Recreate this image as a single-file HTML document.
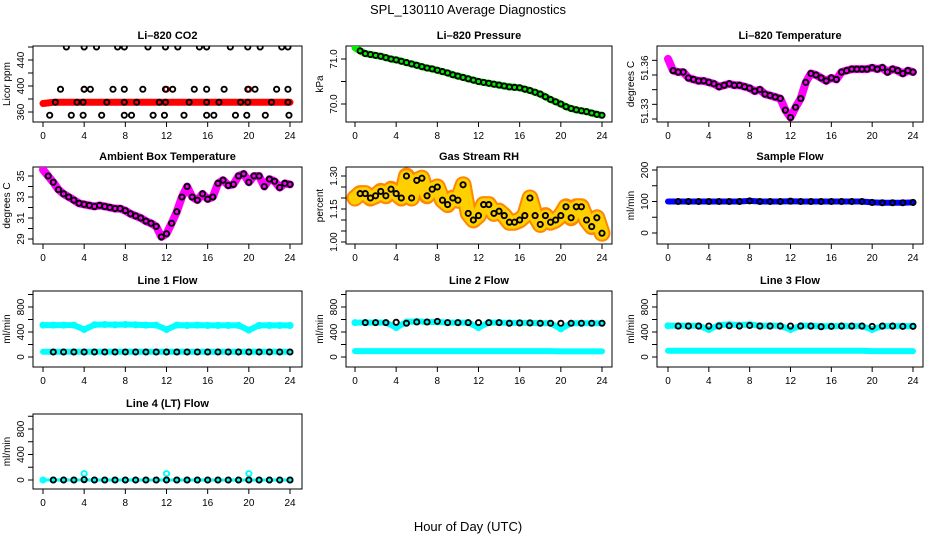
<!DOCTYPE html>
<html><head><meta charset="utf-8">
<style>
html,body{margin:0;padding:0;background:#fff;}
svg{display:block;font-family:"Liberation Sans",Arial,sans-serif;}
</style></head>
<body>
<svg id="chart" width="936" height="540" viewBox="0 0 936 540">
<text x="468" y="14" text-anchor="middle" font-size="13">SPL_130110  Average Diagnostics</text>
<text x="468" y="531" text-anchor="middle" font-size="13">Hour of Day (UTC)</text>
</svg>
<script>
// ---------- data ----------
const hours49 = [0,0.5,1,1.5,2,2.5,3,3.5,4,4.5,5,5.5,6,6.5,7,7.5,8,8.5,9,9.5,10,10.5,11,11.5,12,12.5,13,13.5,14,14.5,15,15.5,16,16.5,17,17.5,18,18.5,19,19.5,20,20.5,21,21.5,22,22.5,23,23.5,24];
const hours25 = [0,1,2,3,4,5,6,7,8,9,10,11,12,13,14,15,16,17,18,19,20,21,22,23,24];
const xTicks = [0,4,8,12,16,20,24];

const co2Hours = [2.27,4.0,5.2,7.25,7.9,10.2,11.9,13.1,15.2,15.9,18.2,19.9,21.1,23.2,23.8, 1.7,4.0,4.6,6.8,7.9,9.7,11.9,12.6,14.7,15.9,17.6,19.9,20.6,22.7,23.8, 1.2,3.3,3.9,6.2,7.9,9.1,11.3,11.9,14.2,15.9,17.1,19.2,19.9,22.2,23.8, 0.65,2.75,3.9,5.7,7.9,8.6,10.7,11.8,13.7,15.9,16.6,18.7,19.8,21.6,23.9];
const co2Values = [460,460,460,460,460,460,460,460,460,460,460,460,460,460,460, 395,395,395,395,395,395,395,395,395,395,395,395,395,395,395, 375,375,375,375,375,375,375,375,375,375,375,375,375,375,375, 355,355,355,355,355,355,355,355,355,355,355,355,355,355,355];
const co2Red = [373,375,375,375,375,375,375,375,375,375,375,375,375,375,375,375,375,375,375,375,375,375,375,375,375];

const pressure = [71.25,71.18,71.12,71.10,71.08,71.06,71.03,71.00,70.98,70.95,70.92,70.89,70.86,70.83,70.80,70.78,70.75,70.72,70.69,70.65,70.62,70.59,70.56,70.53,70.50,70.48,70.46,70.44,70.42,70.40,70.38,70.37,70.36,70.33,70.30,70.26,70.22,70.16,70.10,70.05,70.00,69.94,69.90,69.87,69.85,69.83,69.80,69.77,69.75];

const licorTemp = [51.371,51.363,51.362,51.362,51.358,51.357,51.356,51.356,51.355,51.354,51.352,51.353,51.354,51.353,51.353,51.352,51.351,51.349,51.350,51.347,51.346,51.345,51.344,51.336,51.331,51.338,51.344,51.355,51.361,51.360,51.358,51.356,51.358,51.357,51.362,51.363,51.364,51.364,51.364,51.364,51.365,51.364,51.365,51.362,51.364,51.363,51.361,51.363,51.362];

const ambientTemp = [35.6,35.0,34.4,33.7,33.3,33.0,32.7,32.4,32.3,32.2,32.1,32.2,32.1,32.0,31.9,31.9,31.7,31.4,31.2,31.0,30.7,30.5,30.2,29.2,29.5,30.5,31.6,33.0,34.0,33.0,32.7,33.3,32.8,33.0,34.3,34.6,34.1,34.2,35.0,35.2,34.4,35.0,35.0,34.0,34.7,34.5,33.9,34.3,34.2];

const gasRH = [1.20,1.22,1.22,1.20,1.21,1.23,1.21,1.24,1.22,1.20,1.30,1.20,1.28,1.29,1.21,1.24,1.25,1.19,1.17,1.20,1.19,1.26,1.13,1.10,1.12,1.17,1.17,1.13,1.14,1.12,1.09,1.09,1.10,1.12,1.20,1.12,1.08,1.12,1.09,1.10,1.12,1.16,1.11,1.16,1.16,1.10,1.07,1.11,1.04];

const sampleFlow = [100,100,100,100,100,100,100,100,102,100,100,100,101,100,100,100,100,100,100,100,97,96,96,96,97];

const line1Black = [80,80,80,80,80,80,80,80,80,80,80,80,80,80,80,80,80,80,80,80,80,80,80,80,80];
const line1Cyan = [510,510,510,510,440,515,520,515,520,515,510,510,440,510,505,510,505,505,505,505,430,505,505,505,505];
const line1Low = [85,85,85,85,85,85,85,85,85,85,85,85,85,85,85,85,85,85,85,85,85,85,85,85,85];

const line2Black = [550,550,550,550,555,540,560,560,570,550,550,550,550,550,550,540,545,545,540,540,540,540,540,540,540];
const line2Cyan = [550,550,550,550,470,560,570,560,560,550,550,550,470,550,550,545,545,545,540,540,450,540,540,540,540];
const line2Low = [95,95,95,95,95,95,95,95,95,95,95,95,95,95,95,95,95,95,95,95,90,90,90,90,90];

const line3Black = [495,495,495,495,495,495,500,495,505,495,495,495,495,495,495,485,490,495,495,495,490,495,495,490,490];
const line3Cyan = [500,500,500,500,440,510,520,510,520,500,500,500,440,500,500,490,495,495,495,495,440,495,495,495,495];
const line3Low = [100,100,100,100,100,100,100,100,100,100,100,100,100,100,100,100,100,100,100,100,95,95,95,95,95];

const line4Black = [0,0,0,0,5,0,0,0,0,0,0,0,0,0,0,0,0,0,0,0,0,0,0,0,0];
const line4Cyan = [0,0,0,0,100,0,0,0,0,0,0,0,100,0,0,0,0,0,0,0,100,0,0,0,0];

// ---------- helpers ----------
const svg = document.getElementById('chart');
const NS = 'http://www.w3.org/2000/svg';
function mk(tag, attrs, parent) {
  const e = document.createElementNS(NS, tag);
  for (const k in attrs) e.setAttribute(k, attrs[k]);
  (parent || svg).appendChild(e);
  return e;
}
const cols = [{l:33,r:302,x0:43,x1:290},{l:346,r:612,x0:355,x1:602},{l:657,r:923,x0:668,x1:913}];
const rows = [{t:46,b:122},{t:167,b:244},{t:291,b:367},{t:414,b:489}];

function panel(name, title, col, row, yLab, yRef, yTicks, yLabels, labelPos) {
  const c = cols[col], r = rows[row];
  const g = mk('g', {});
  
  
  const xs = h => c.x0 + (h / 24) * (c.x1 - c.x0);
  const ys = v => yRef[1] + (v - yRef[0]) * (yRef[3] - yRef[1]) / (yRef[2] - yRef[0]);
  const t = mk('text', {x:(c.l + c.r) / 2, y:r.t - 7, 'text-anchor':'middle', 'font-size':11, 'font-weight':'bold'}, g);
  t.textContent = title;
  
  
  const box = mk('rect', {x:c.l, y:r.t, width:c.r - c.l, height:r.b - r.t, fill:'none', stroke:'#000', 'stroke-width':1}, g);
  
  
  const xa = mk('g', {}, g);
  
  
  mk('line', {x1:xs(0), x2:xs(24), y1:r.b, y2:r.b, stroke:'#000'}, xa);
  xTicks.forEach(v => {
    mk('line', {x1:xs(v), x2:xs(v), y1:r.b, y2:r.b + 5, stroke:'#000'}, xa);
    const tl = mk('text', {x:xs(v), y:r.b + 17, 'text-anchor':'middle', 'font-size':10}, xa);
    tl.textContent = v;
    
    
  });
  const ya = mk('g', {}, g);
  
  
  mk('line', {x1:c.l, x2:c.l, y1:ys(yTicks[0]), y2:ys(yTicks[yTicks.length - 1]), stroke:'#000'}, ya);
  yTicks.forEach(v => mk('line', {x1:c.l - 5, x2:c.l, y1:ys(v), y2:ys(v), stroke:'#000'}, ya));
  yLabels.forEach((lab, i) => {
    const yy = labelPos ? labelPos[i] : ys(parseFloat(lab));
    const tl = mk('text', {x:c.l - 9, y:yy, 'text-anchor':'middle', 'font-size':10, transform:`rotate(-90 ${c.l - 9} ${yy})`}, ya);
    tl.textContent = lab;
    
    
  });
  const cy = (r.t + r.b) / 2;
  const yt = mk('text', {x:c.l - 23, y:cy, 'text-anchor':'middle', 'font-size':10, transform:`rotate(-90 ${c.l - 23} ${cy})`}, g);
  yt.textContent = yLab;
  
  
  const clip = 'clip' + name;
  const cp = mk('clipPath', {id:clip}, g);
  mk('rect', {x:c.l, y:r.t, width:c.r - c.l, height:r.b - r.t}, cp);
  const plot = mk('g', {'clip-path':`url(#${clip})`}, g);
  return {xs, ys, g:plot};
}
function band(p, hs, vals, color, w, nm, extra) {
  const pts = hs.map((h, i) => p.xs(h).toFixed(1) + ',' + p.ys(vals[i]).toFixed(1)).join(' ');
  const pl = mk('polyline', Object.assign({points:pts, fill:'none', stroke:color, 'stroke-width':w, 'stroke-linejoin':'round', 'stroke-linecap':'round'}, extra || {}), p.g);
  
  
}
function dots(p, hs, vals, color, nm, start) {
  hs.forEach((h, i) => {
    if (h < (start || 0)) return;
    const ci = mk('circle', {cx:p.xs(h), cy:p.ys(vals[i]), r:2.6, fill:'none', stroke:color, 'stroke-width':1.9}, p.g);
    
    
  });
}

let p = panel('co2-panel', 'Li\u2013820 CO2', 0, 0, 'Licor ppm', [360,112,440,60], [360,380,400,420,440,460], ['360','400','440']);
band(p, hours25, co2Red, '#ff0000', 7, 'co2-red-series');
dots(p, [4,12,20], [395,395,395], '#ff0000', 'co2-red-point');
dots(p, co2Hours, co2Values, '#000', 'co2-point');

p = panel('pressure-panel', 'Li\u2013820 Pressure', 1, 0, 'kPa', [70.0,104,71.0,59], [70.0,70.5,71.0], ['70.0','71.0']);
band(p, hours49, pressure, '#00ee00', 7, 'pressure-green-series');
dots(p, hours49, pressure, '#000', 'pressure-point', 0.5);

p = panel('licor-temp-panel', 'Li\u2013820 Temperature', 2, 0, 'degrees C', [51.33,119,51.36,75], [51.33,51.34,51.35,51.36,51.37], ['51.33','51.36'], [111,68]);
band(p, hours49, licorTemp, '#ff00ff', 8, 'licor-temp-series');
dots(p, hours49, licorTemp, '#000', 'licor-temp-point', 0.5);

p = panel('ambient-temp-panel', 'Ambient Box Temperature', 0, 1, 'degrees C', [29,239,35,176], [29,30,31,32,33,34,35], ['29','31','33','35']);
band(p, hours49, ambientTemp, '#ff00ff', 8, 'ambient-temp-series');
dots(p, hours49, ambientTemp, '#000', 'ambient-temp-point', 0.5);

p = panel('rh-panel', 'Gas Stream RH', 1, 1, 'percent', [1.00,242,1.30,176], [1.00,1.05,1.10,1.15,1.20,1.25,1.30], ['1.00','1.15','1.30']);
band(p, hours49, gasRH, '#ff8800', 17, 'rh-orange-series');
band(p, hours49, gasRH, '#ffee00', 13, 'rh-yellow-series', {'stroke-dasharray':'1.5 2.5', opacity:0.7});
dots(p, hours49, gasRH, '#000', 'rh-point', 0.5);

p = panel('sample-flow-panel', 'Sample Flow', 2, 1, 'ml/min', [0,233,200,170], [0,50,100,150,200], ['0','100','200']);
band(p, hours25, sampleFlow, '#0000ff', 6, 'sample-flow-series');
dots(p, hours25, sampleFlow, '#000', 'sample-flow-point', 0.5);

const fT = [0,200,400,600,800,1000], fL = ['0','400','800'];
p = panel('line1-panel', 'Line 1 Flow', 0, 2, 'ml/min', [0,357,800,307], fT, fL);
band(p, hours25, line1Cyan, '#00ffff', 6, 'line1-cyan-series');
dots(p, hours25, line1Cyan, '#00ffff', 'line1-cyan-point');
band(p, hours25, line1Low, '#00ffff', 6, 'line1-cyan-low-series');
dots(p, hours25, line1Black, '#000', 'line1-point', 0.5);

p = panel('line2-panel', 'Line 2 Flow', 1, 2, 'ml/min', [0,357,800,307], fT, fL);
band(p, hours25, line2Cyan, '#00ffff', 6, 'line2-cyan-series');
dots(p, hours25, line2Cyan, '#00ffff', 'line2-cyan-point');
band(p, hours25, line2Low, '#00ffff', 6, 'line2-cyan-low-series');
dots(p, hours25, line2Black, '#000', 'line2-point', 0.5);

p = panel('line3-panel', 'Line 3 Flow', 2, 2, 'ml/min', [0,357,800,307], fT, fL);
band(p, hours25, line3Cyan, '#00ffff', 6, 'line3-cyan-series');
dots(p, hours25, line3Cyan, '#00ffff', 'line3-cyan-point');
band(p, hours25, line3Low, '#00ffff', 6, 'line3-cyan-low-series');
dots(p, hours25, line3Black, '#000', 'line3-point', 0.5);

p = panel('line4-panel', 'Line 4 (LT) Flow', 0, 3, 'ml/min', [0,480,800,429], fT, fL);
band(p, hours25, line4Cyan.map(() => 0), '#00ffff', 3, 'line4-cyan-series');
dots(p, hours25, line4Cyan, '#00ffff', 'line4-cyan-point');
dots(p, hours25, line4Black, '#000', 'line4-point', 0.5);
</script>
</body></html>
